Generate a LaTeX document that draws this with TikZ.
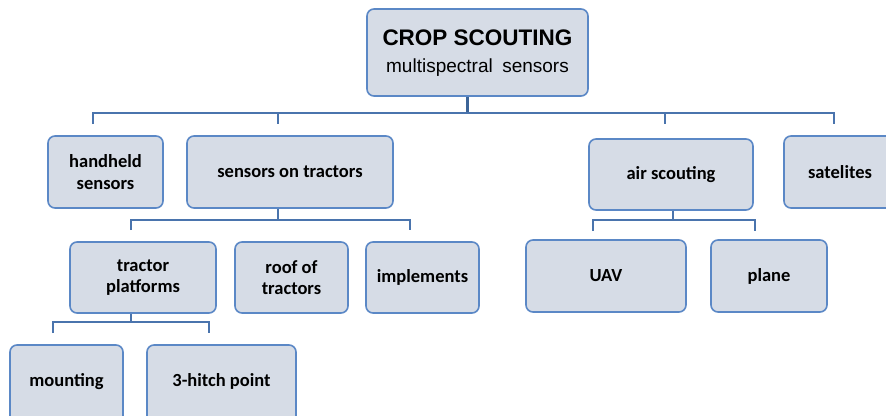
\documentclass[tikz,border=0pt]{standalone}
\usepackage{fontspec}
\setmainfont{Carlito}
\newfontfamily\arialfont{Liberation Sans}
\definecolor{boxfill}{HTML}{D6DCE6}
\definecolor{boxline}{HTML}{5B88C6}
\definecolor{linkline}{HTML}{4A74AD}
\definecolor{stemline}{HTML}{3C6497}
\tikzset{
  card/.style={draw=boxline, line width=1.6pt, fill=boxfill, rounded corners=7pt,
    align=center, font=\bfseries\fontsize{18.5}{21.5}\selectfont, inner sep=0pt},
  link/.style={draw=linkline, line width=1.6pt},
}
% place a card by its corners, in pixel units (y grows downwards)
\newcommand{\cardat}[7][]{%
  \node[card, minimum width=#5-#3, minimum height=#6-#4, #1] (#2) at ({(#3+#5)/2},{(#4+#6)/2}) {#7};}
\begin{document}
\begin{tikzpicture}[x=1pt,y=-1pt]
\useasboundingbox (0,0) rectangle (886,415);
\clip (0,0) rectangle (886,415);

% root
\node[card, minimum width=221, minimum height=87, font=\arialfont, text depth=3pt] (root) at (477.5,52.5)
  {{\bfseries\fontsize{22.5}{24}\selectfont CROP SCOUTING}\\[12pt]
   {\fontsize{19}{21}\selectfont multispectral\hspace{0.5em}sensors}};

% first level
\cardat{hand}{48}{136}{163}{208}{handheld\\sensors}
\cardat{tract}{187}{136}{393}{208}{sensors on tractors}
\cardat{air}{589}{139}{753}{210}{air scouting}
\cardat[text width=86]{sat}{784}{136}{896}{208}{satelites}

% tractor branch
\cardat{plat}{70}{242}{216}{313}{tractor\\platforms}
\cardat{roof}{235}{242}{348}{313}{roof of\\tractors}
\cardat{impl}{366}{242}{479}{313}{implements}

% platform branch (cards run past the lower edge)
\cardat[text depth=25pt]{mount}{10}{345}{123}{440}{mounting}
\cardat[text depth=25pt]{hitch}{147}{345}{296}{440}{3-hitch point}

% air branch
\cardat{uav}{526}{240}{686}{312}{UAV}
\cardat{plane}{711}{240}{827}{312}{plane}

% connectors
\coordinate (busA) at (467,113);
\draw[draw=stemline, line width=3pt] (root.south -| busA) -- (busA);
\draw[link] (93,124) |- (busA) -| (834,124);
\draw[link] (278,113) -- (278,124);
\draw[link] (665,113) -- (665,124);

\coordinate (busB) at (278,220);
\draw[link] (tract.south -| busB) -- (busB);
\draw[link] (131,230) |- (busB) -| (410,230);

\coordinate (busC) at (131,322);
\draw[link] (plat.south -| busC) -- (busC);
\draw[link] (53,333) |- (busC) -| (209,333);

\coordinate (busD) at (673,220);
\draw[link] (air.south -| busD) -- (busD);
\draw[link] (593,231) |- (busD) -| (755,231);
\end{tikzpicture}
\end{document}
